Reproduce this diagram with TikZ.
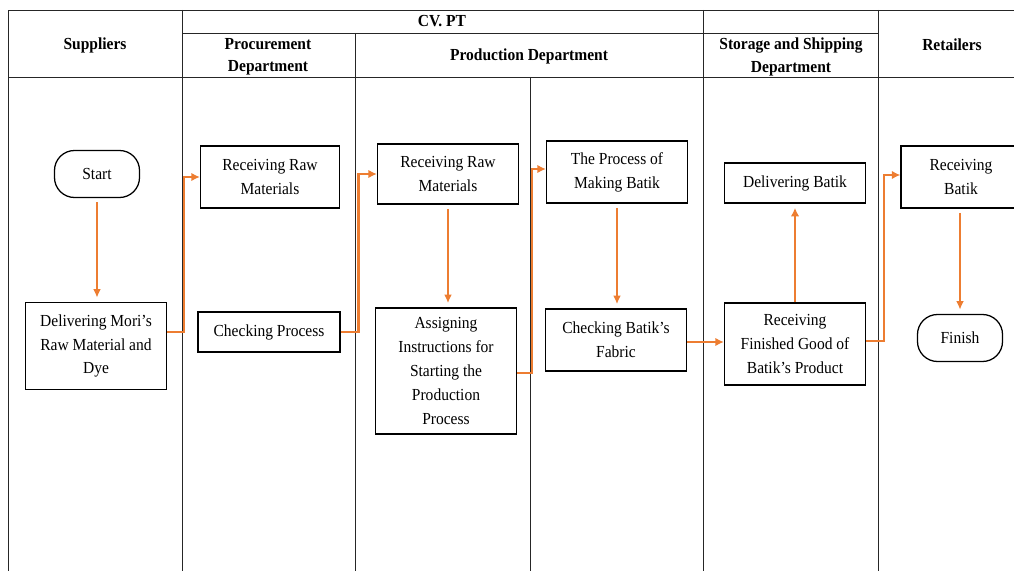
\documentclass[tikz,border=0pt]{standalone}
\usepackage{fontspec}
\setmainfont[FakeStretch=0.92]{Liberation Serif}
\usepackage{tikz}
\usetikzlibrary{positioning,arrows.meta}
\definecolor{floworange}{RGB}{237,125,49}

\begin{document}
\begin{tikzpicture}[x=0.025cm, y=-0.025cm,
  lane/.style={line width=0.7pt, black!85},
  head/.style={font=\bfseries\fontsize{12}{16}\selectfont, align=center},
  box/.style={draw, line width=0.9pt, align=center, inner sep=2pt, minimum width=3.525cm, font=\fontsize{12}{17}\selectfont},
  term/.style={box, rounded corners=0.5cm, minimum width=2.125cm, minimum height=1.175cm},
  flow/.style={floworange, line width=1.1pt, -{Latex[length=6pt,width=5.5pt]}, shorten >=3pt, shorten <=3pt},
  thickflow/.style={floworange, line width=1.8pt, -{Latex[length=6pt,width=6pt]}}]
  \clip (0,0) rectangle (1014,571);
  \useasboundingbox (0,0) rectangle (1014,571);

  % swimlanes
  \draw[lane] (8,571) -- (8,10) -- (1030,10);
  \draw[lane] (182,33) -- (878,33);
  \draw[lane] (8,77) -- (1030,77);
  \draw[lane] (182,10) -- (182,571);
  \draw[lane] (355,33) -- (355,571);
  \draw[lane] (530,77) -- (530,571);
  \draw[lane] (703,10) -- (703,571);
  \draw[lane] (878,10) -- (878,571);

  \node[head] (hsup) at (95,45) {Suppliers};
  \node[head] (hcv) at (442,21) {CV. PT};
  \node[head] (hproc) at (268,57) {Procurement\\Department};
  \node[head] (hprod) at (529,56) {Production Department};
  \node[head] (hstore) at (791,57) {Storage and Shipping\\Department};
  \node[head] (hret) at (952,45) {Retailers};

  % steps
  \node[term] (start) at (97,174) {Start};
  \node[box, minimum height=2.175cm] (deliver) at (96,346) {Delivering Mori’s\\Raw Material and\\Dye};
  \node[box, minimum width=3.475cm, minimum height=1.55cm] (rawproc) at (270,177) {Receiving Raw\\Materials};
  \node[box, minimum width=3.55cm, minimum height=1cm] (checkproc) at (269,332) {Checking Process};
  \node[box, minimum height=1.5cm] (rawprod) at (448,174) {Receiving Raw\\Materials};
  \node[box, minimum height=3.15cm] (assign) at (446,371) {Assigning\\Instructions for\\Starting the\\Production\\Process};
  \node[box, minimum height=1.55cm] (making) at (617,172) {The Process of\\Making Batik};
  \node[box, minimum height=1.55cm] (checkfab) at (616,340) {Checking Batik's\\Fabric};
  \node[box, minimum height=1cm] (delbatik) at (795,183) {Delivering Batik};
  \node[box, minimum height=2.05cm] (recvfin) at (795,344) {Receiving\\Finished Good of\\Batik's Product};
  \node[box, minimum width=3cm, minimum height=1.55cm] (recvbatik) at (961,177) {Receiving\\Batik};
  \node[term] (finish) at (960,338) {Finish};

  % connectors
  \draw[flow] (start.south) -- (start.south |- deliver.north);
  \draw[thickflow] ([yshift=0.35cm]deliver.east) -- ++(17,0) |- (rawproc.west);
  \draw[thickflow] (checkproc.east) -- ++(18,0) |- (rawprod.west);
  \draw[flow] (rawprod.south) -- (rawprod.south |- assign.north);
  \draw[thickflow] ([yshift=-0.05cm]assign.east) -- ++(15,0) |- ([yshift=0.075cm]making.west);
  \draw[flow] (making.south) -- (making.south |- checkfab.north);
  \draw[thickflow] ([yshift=-0.05cm]checkfab.east) -- ([yshift=-0.05cm]checkfab.east -| recvfin.west);
  \draw[thickflow, shorten >=3pt] (recvfin) -- (delbatik);
  \draw[thickflow] ([yshift=0.075cm]recvfin.east) -- ++(18,0) |- ([yshift=0.05cm]recvbatik.west);
  \draw[flow] (finish.north |- recvbatik.south) -- (finish.north);
\end{tikzpicture}
\end{document}
